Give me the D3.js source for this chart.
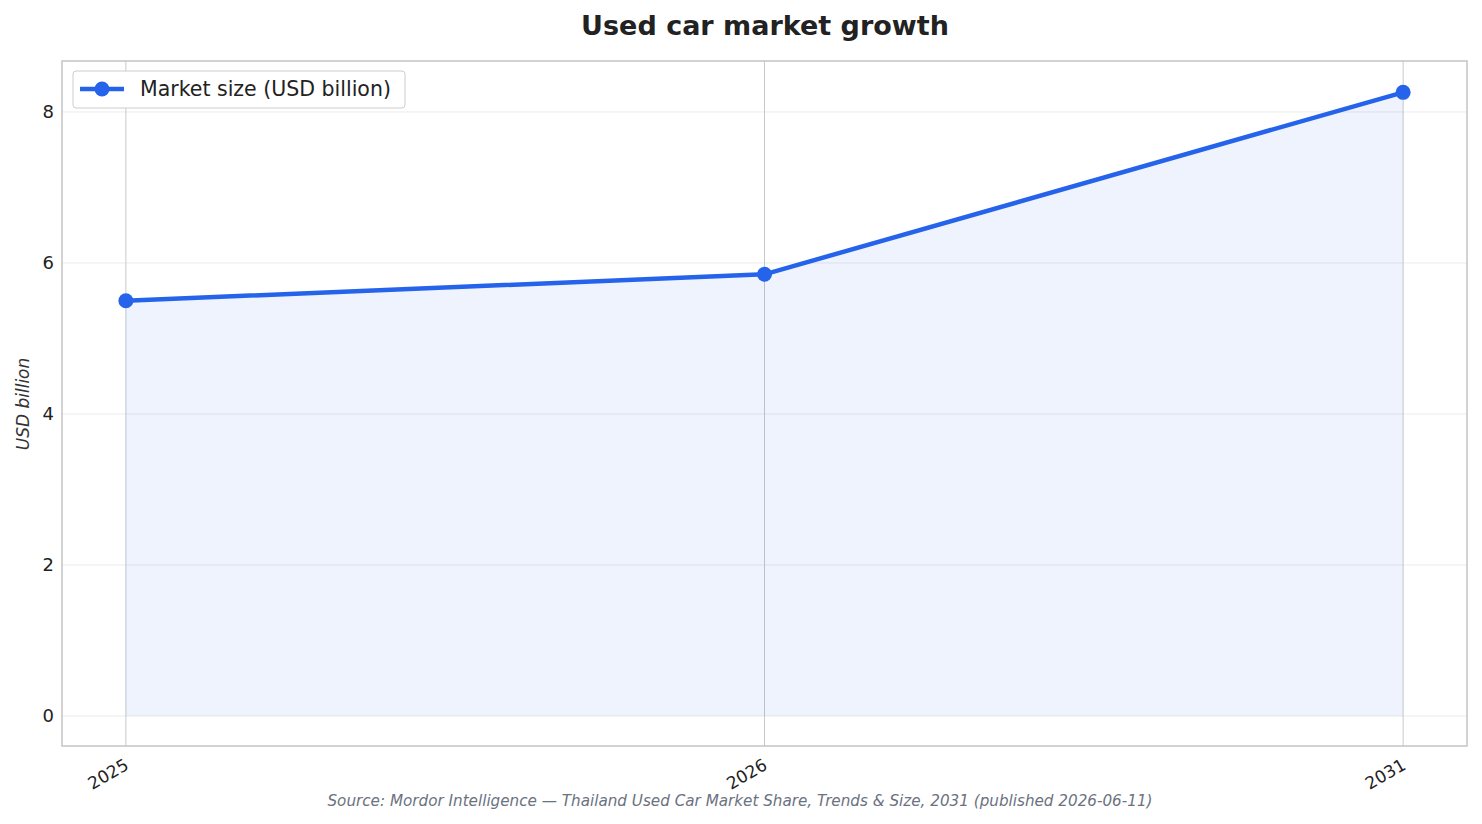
<!DOCTYPE html><html><head><meta charset="utf-8"><script src="https://cdn.jsdelivr.net/npm/d3@7"></script>
<style>body{margin:0;background:#fff}text{font-family:"DejaVu Sans","Verdana",sans-serif}</style></head><body>
<svg id="c" width="1482" height="824"></svg>
<script>
const categories=["2025","2026","2031"];
const values=[5.5,5.85,8.26];
const yTicks=[0,2,4,6,8];
const svg=d3.select("#c");
const L=62,R=1467,T=61,B=746;
const x=d3.scalePoint().domain(categories).range([L,R]).padding(0.1);
const y=d3.scaleLinear().domain([-0.397,8.675]).range([B,T]);
const g=svg.append("g");
yTicks.forEach(t=>g.append("line").attr("x1",L).attr("x2",R).attr("y1",y(t)).attr("y2",y(t)).attr("stroke","#ebebeb"));
categories.forEach(c=>g.append("line").attr("x1",x(c)).attr("x2",x(c)).attr("y1",T).attr("y2",B).attr("stroke","#c8c8d0"));
const data=categories.map((c,i)=>({c,v:values[i]}));
g.append("path").datum(data).attr("d",d3.area().x(d=>x(d.c)).y0(y(0)).y1(d=>y(d.v))).attr("fill","#2563eb").attr("fill-opacity",0.08);
g.append("path").datum(data).attr("d",d3.line().x(d=>x(d.c)).y(d=>y(d.v))).attr("fill","none").attr("stroke","#2563eb").attr("stroke-width",4.5);
g.selectAll("circle").data(data).join("circle").attr("cx",d=>x(d.c)).attr("cy",d=>y(d.v)).attr("r",7.5).attr("fill","#2563eb");
svg.append("rect").attr("x",L).attr("y",T).attr("width",R-L).attr("height",B-T).attr("fill","none").attr("stroke","#c4c4c4").attr("stroke-width",1.5);
yTicks.forEach(t=>svg.append("text").attr("x",L-8).attr("y",y(t)).attr("dy","0.35em").attr("text-anchor","end").attr("font-size",18).attr("fill","#222").text(t));
categories.forEach(c=>svg.append("text").attr("transform",`translate(${x(c)-2},${B+12}) rotate(-30)`).attr("text-anchor","end").attr("dy","0.7em").attr("font-size",17).attr("fill","#222").text(c));
svg.append("text").attr("x",765).attr("y",35).attr("text-anchor","middle").attr("font-size",27).attr("font-weight","bold").attr("fill","#222").text("Used car market growth");
svg.append("text").attr("transform","translate(29,404) rotate(-90)").attr("text-anchor","middle").attr("font-size",17).attr("font-style","italic").attr("fill","#333").text("USD billion");
svg.append("text").attr("x",740).attr("y",806).attr("text-anchor","middle").attr("font-size",15.2).attr("font-style","italic").attr("fill","#6b7280").text("Source: Mordor Intelligence — Thailand Used Car Market Share, Trends & Size, 2031 (published 2026-06-11)");
const lg=svg.append("g");
lg.append("rect").attr("x",73).attr("y",71).attr("width",332).attr("height",37).attr("rx",3).attr("fill","#fff").attr("stroke","#ccc");
lg.append("line").attr("x1",80).attr("x2",124).attr("y1",89).attr("y2",89).attr("stroke","#2563eb").attr("stroke-width",4.5);
lg.append("circle").attr("cx",102).attr("cy",89).attr("r",7.5).attr("fill","#2563eb");
lg.append("text").attr("x",140).attr("y",89).attr("dy","0.35em").attr("font-size",20.5).attr("fill","#222").text("Market size (USD billion)");
</script></body></html>
